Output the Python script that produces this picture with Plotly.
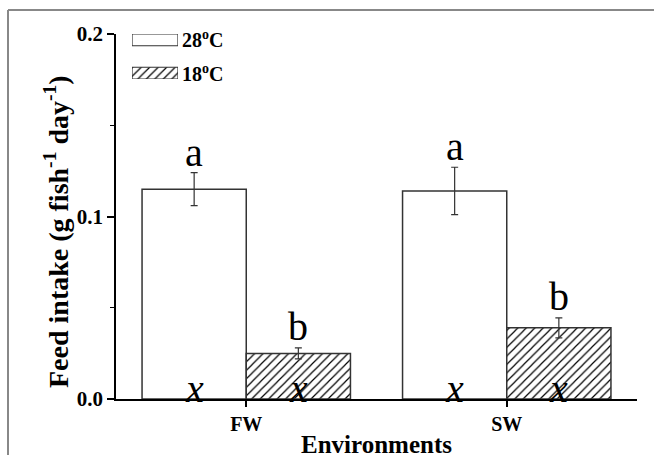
import plotly.graph_objects as go

categories = ["FW", "SW"]
series_names = ["28<sup>o</sup>C", "18<sup>o</sup>C"]
mean_28 = [0.115, 0.114]
err_28 = [0.009, 0.013]
mean_18 = [0.025, 0.039]
err_18 = [0.003, 0.0055]
letters_28 = ["a", "a"]
letters_18 = ["b", "b"]
inner_letters = ["x", "x"]
y_ticks = [0.0, 0.1, 0.2]
y_tick_labels = ["0.0", "0.1", "0.2"]
y_minor_ticks = [0.05, 0.15]

SERIF = "Liberation Serif, Times New Roman, serif"
LINE = "#333333"
HATCH = dict(shape="/", fgcolor="black", bgcolor="white", size=6, solidity=0.2, fgopacity=1)

W, H = 654, 455
# plot area in pixels: x 116..637, y 34..399
PX0, PX1, PY0, PY1 = 116, 637, 34, 399
PW, PH = PX1 - PX0, PY1 - PY0


def px(xw):
    return (xw - PX0) / PW


def py(yw):
    return (PY1 - yw) / PH


fig = go.Figure()
fig.add_trace(go.Bar(
    x=categories, y=mean_28, name=series_names[0],
    marker=dict(color="white", line=dict(color=LINE, width=1.5)),
    error_y=dict(type="data", array=err_28, color=LINE, thickness=1.2, width=3.5),
    showlegend=False,
))
fig.add_trace(go.Bar(
    x=categories, y=mean_18, name=series_names[1],
    marker=dict(color="white", line=dict(color=LINE, width=1.5), pattern=HATCH),
    error_y=dict(type="data", array=err_18, color=LINE, thickness=1.2, width=3.5),
    showlegend=False,
))

# legend swatches drawn as a small bar trace on hidden axes
fig.add_trace(go.Bar(
    y=[1, 0], x=[1, 1], orientation="h", width=0.353,
    marker=dict(color="white", line=dict(color=LINE, width=1.2),
                pattern=dict(shape=["", "/"], fgcolor="black", bgcolor="white", size=6,
                             solidity=0.2, fgopacity=1)),
    xaxis="x2", yaxis="y2", showlegend=False, hoverinfo="skip",
))

annotations = []
for i in range(len(categories)):
    annotations.append(dict(x=i - 0.2, y=mean_28[i] + err_28[i], text=letters_28[i],
                            xref="x", yref="y", showarrow=False, yanchor="bottom", yshift=-4,
                            font=dict(family=SERIF, size=40, color="black")))
    annotations.append(dict(x=i + 0.2, y=mean_18[i] + err_18[i], text=letters_18[i],
                            xref="x", yref="y", showarrow=False, yanchor="bottom", yshift=-3,
                            font=dict(family=SERIF, size=40, color="black")))
    for off in (-0.2, 0.2):
        annotations.append(dict(x=i + off, y=0, text="<i>" + inner_letters[i] + "</i>",
                                xref="x", yref="y", showarrow=False, yanchor="bottom", yshift=-14,
                                font=dict(family=SERIF, size=40, color="black")))

# legend labels
for j, ypix in enumerate([39, 73]):
    annotations.append(dict(x=px(180), y=py(ypix), text="<b>" + series_names[j] + "</b>",
                            xref="paper", yref="paper", showarrow=False, xanchor="left", yanchor="middle",
                            font=dict(family=SERIF, size=20, color="black")))

# y-axis title
annotations.append(dict(x=px(56), y=py(232),
                        text="<b>Feed intake (g fish<sup>-1</sup> day<sup>-1</sup>)</b>",
                        xref="paper", yref="paper", showarrow=False, textangle=-90,
                        xanchor="center", yanchor="middle",
                        font=dict(family=SERIF, size=28, color="black")))

# x-axis title
annotations.append(dict(x=0.5, y=py(444), text="<b>Environments</b>",
                        xref="paper", yref="paper", showarrow=False,
                        xanchor="center", yanchor="middle",
                        font=dict(family=SERIF, size=25, color="black")))

shapes = [
    dict(type="line", xref="paper", yref="paper", x0=px(8), x1=px(W + 10),
         y0=py(10), y1=py(10), line=dict(color="#888888", width=2)),
    dict(type="line", xref="paper", yref="paper", x0=px(8), x1=px(8),
         y0=py(10), y1=py(H + 10), line=dict(color="#888888", width=2)),
]

fig.update_layout(
    width=W, height=H,
    margin=dict(l=PX0, r=W - PX1, t=PY0, b=H - PY1),
    paper_bgcolor="white", plot_bgcolor="white",
    barmode="group", bargap=0.2, bargroupgap=0,
    annotations=annotations, shapes=shapes,
    xaxis=dict(
        range=[-0.5, 1.5], showline=True, linecolor="black", linewidth=2,
        ticks="outside", ticklen=6, tickwidth=1.5, tickcolor="black",
        showgrid=False, zeroline=False,
        tickfont=dict(family=SERIF, size=20, color="black"),
        tickmode="array", tickvals=[0, 1], ticktext=["<b>" + c + "</b>" for c in categories],
    ),
    yaxis=dict(
        range=[0, 0.2], showline=True, linecolor="black", linewidth=1.5,
        ticks="outside", ticklen=7, tickwidth=1.5, tickcolor="black",
        showgrid=False, zeroline=False,
        tickmode="array", tickvals=y_ticks, ticktext=["<b>" + t + "</b>" for t in y_tick_labels],
        tickfont=dict(family=SERIF, size=21, color="black"),
        minor=dict(tickmode="array", tickvals=y_minor_ticks, ticks="outside", ticklen=4,
                   tickwidth=1.2, tickcolor="black", showgrid=False),
    ),
    xaxis2=dict(domain=[px(132), px(178)], range=[0, 1], visible=False, anchor="y2"),
    yaxis2=dict(domain=[py(79), 1.0], range=[-0.176, 1.176], visible=False, anchor="x2"),
)

fig.write_html(
    "out.html",
    config={"displayModeBar": False},
    post_script="document.body.style.margin='0';document.documentElement.style.overflow='hidden';document.body.style.overflow='hidden';",
)
